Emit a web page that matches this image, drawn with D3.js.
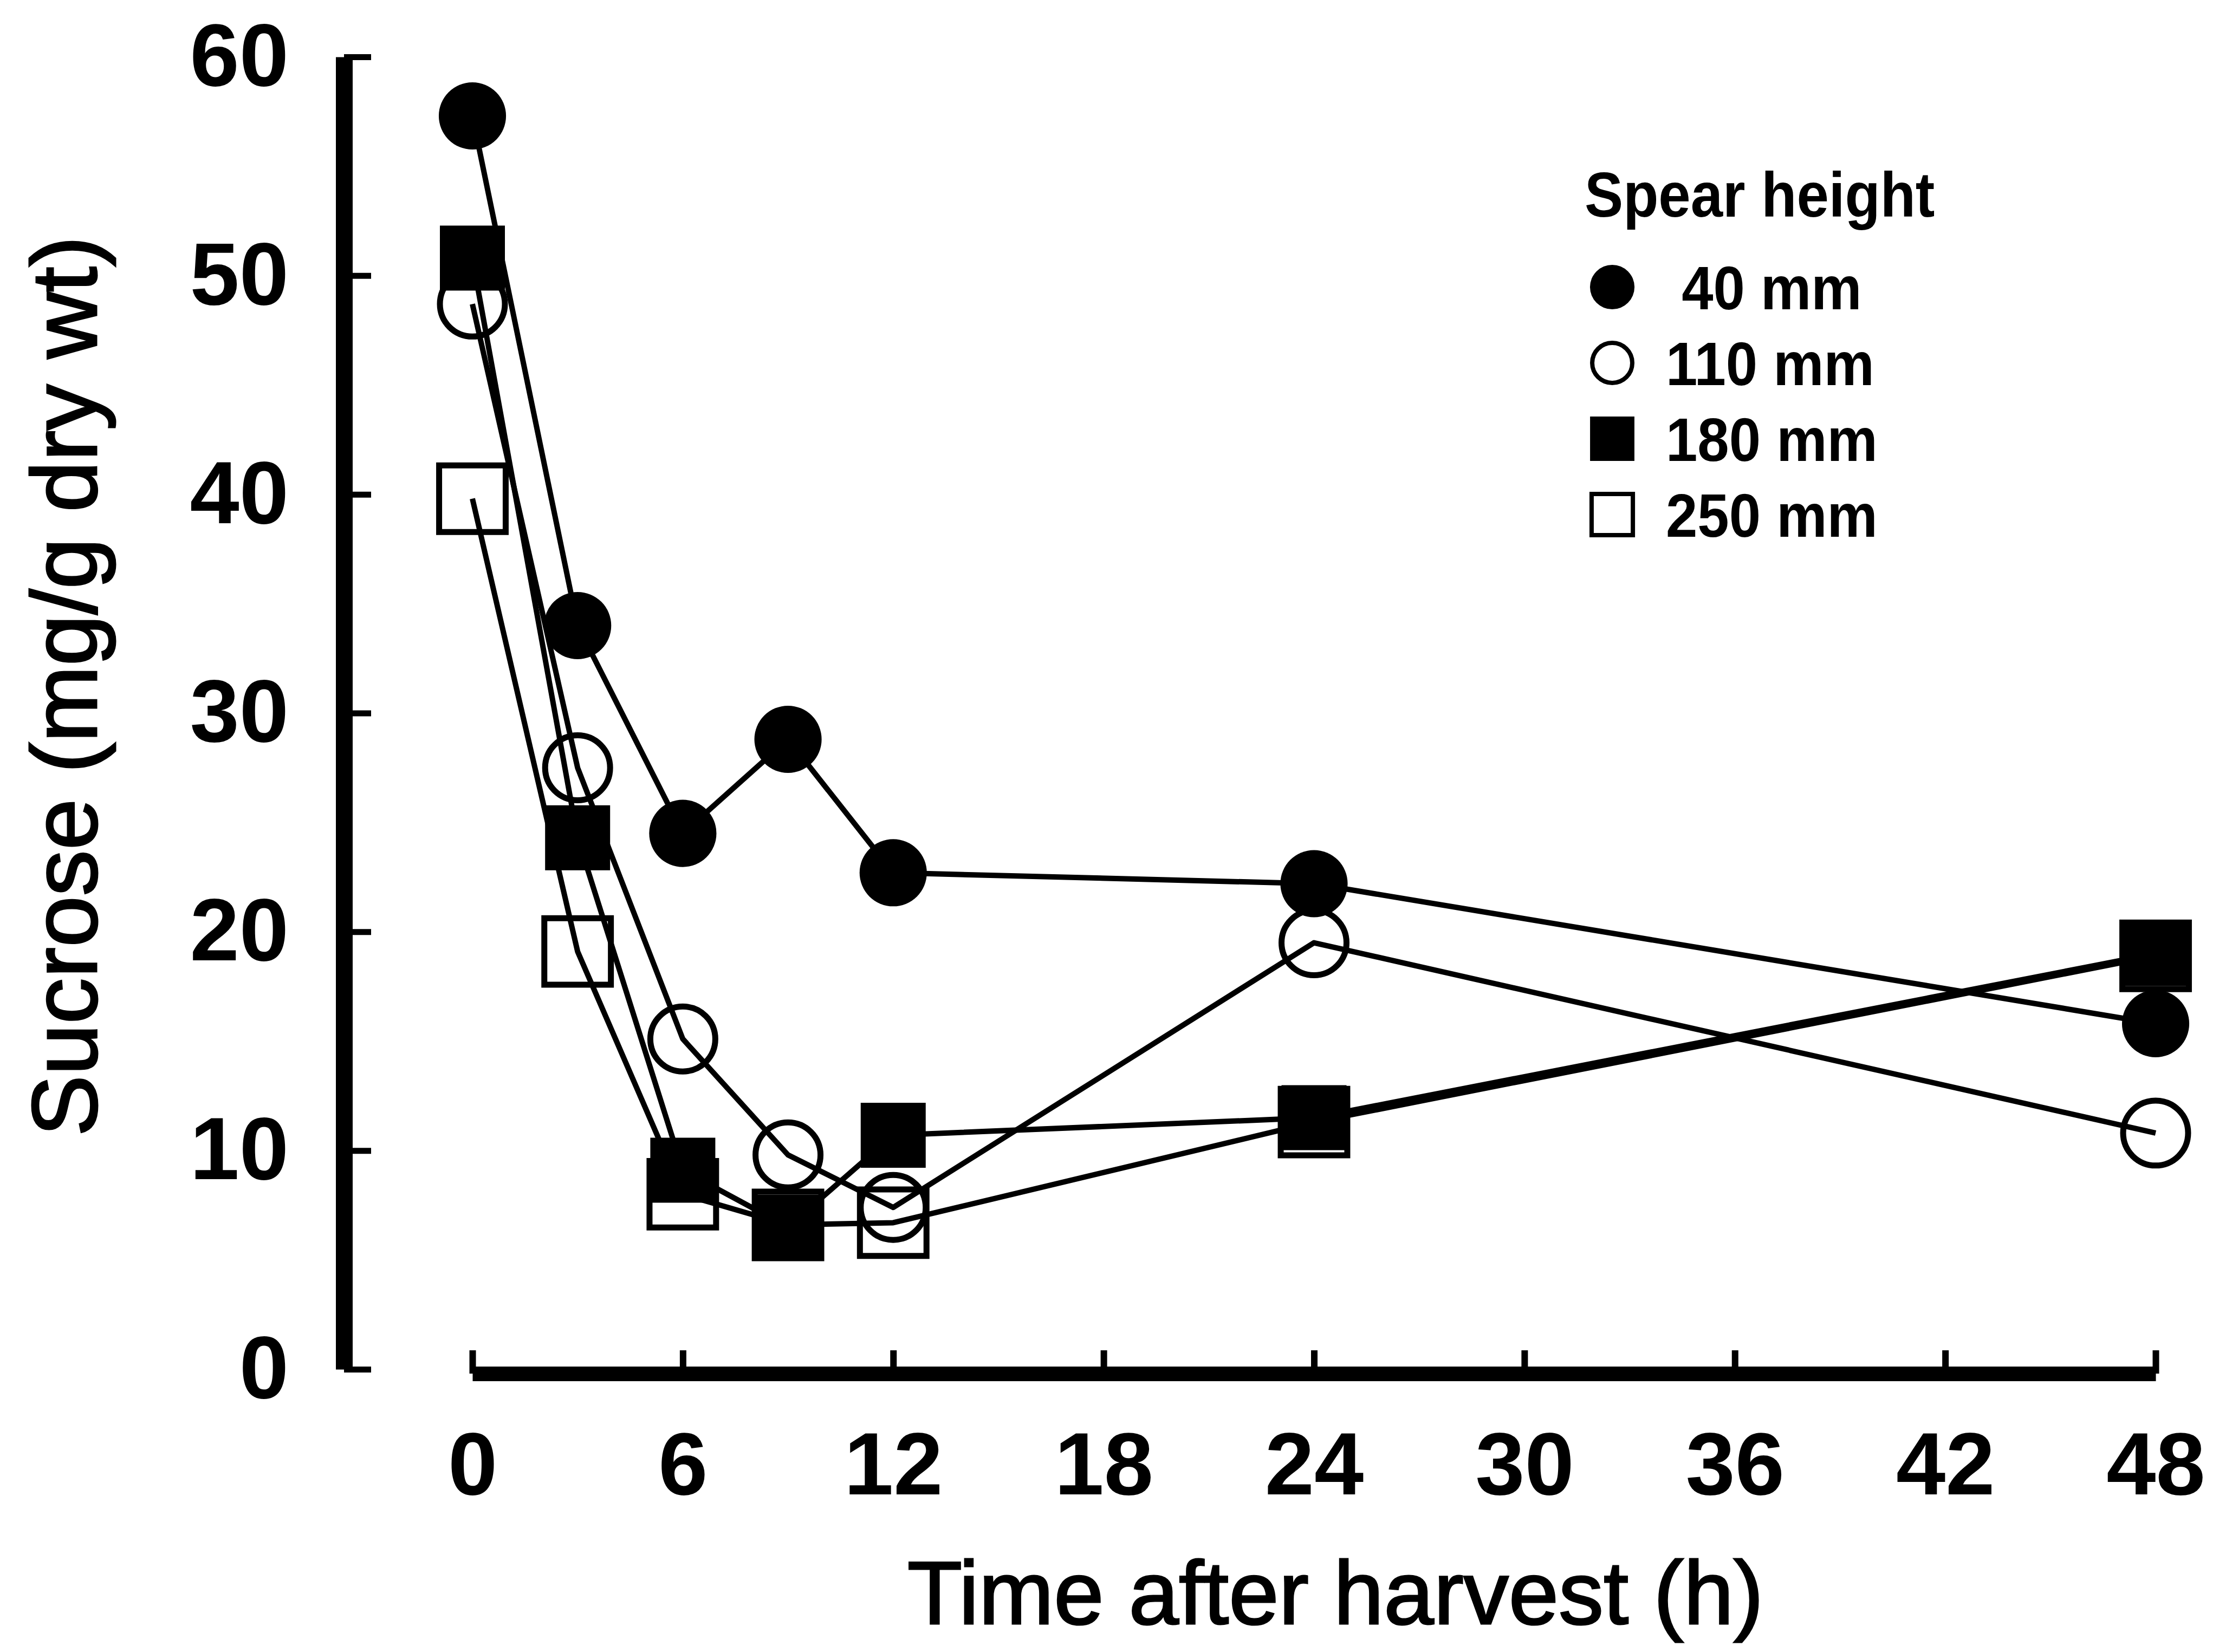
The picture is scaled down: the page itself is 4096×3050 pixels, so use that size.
<!DOCTYPE html>
<html>
<head>
<meta charset="utf-8">
<script src="https://cdn.jsdelivr.net/npm/d3@7"></script>
<style>
  body { margin: 0; background: #fff; }
  svg { display: block; }
  text { font-family: 'Liberation Sans', Arial, Helvetica, sans-serif; fill: #000; }
</style>
</head>
<body>
<svg></svg>
<script>
  // tijd na oogst (h)
  let hours = [0, 3, 6, 9, 12, 24, 48]
  // sucrose (mg/g dry wt) per spear height
  let spear40 = [57.3, 34.0, 24.5, 28.8, 22.7, 22.2, 15.8]
  let spear110 = [48.7, 27.5, 15.1, 9.8, 7.4, 19.5, 10.8]
  let spear180 = [50.8, 24.3, 9.1, 6.5, 10.7, 11.5, 19.0]
  let spear250 = [39.8, 19.1, 8.0, 6.6, 6.7, 11.3, 18.9]
  let seriesLabels = [' 40 mm', '110 mm', '180 mm', '250 mm']
  let xTicks = [0, 6, 12, 18, 24, 30, 36, 42, 48]
  let yTicks = [0, 10, 20, 30, 40, 50, 60]

  let svgWidth = 4096, svgHeight = 3050

  let svg = d3.select('svg')
    .attr('width', svgWidth)
    .attr('height', svgHeight)

  svg.append('rect')
    .attr('width', svgWidth)
    .attr('height', svgHeight)
    .attr('fill', '#fff')

  let x = d3.scaleLinear().domain([0, 48]).range([872, 3979])
  let y = d3.scaleLinear().domain([0, 60]).range([2528, 105])

  // marker style per serie (shape, filled, symbol area in plot / legend)
  let markers = [
    { shape: d3.symbolCircle, filled: true, size: 12100, legendSize: 5300 },
    { shape: d3.symbolCircle, filled: false, size: 11300, legendSize: 4300 },
    { shape: d3.symbolSquare, filled: true, size: 14400, legendSize: 6700 },
    { shape: d3.symbolSquare, filled: false, size: 15100, legendSize: 5800 }
  ]

  let series = [spear40, spear110, spear180, spear250].map(function (values, i) {
    return {
      label: seriesLabels[i],
      marker: markers[i],
      points: hours.map(function (h, j) { return { h: h, v: values[j] } })
    }
  })

  // Y as: dikke lijn, ticks naar binnen
  let yAxis = svg.append('g')
    .attr('transform', 'translate(635,0)')
    .call(d3.axisLeft(y).tickValues(yTicks).tickSizeInner(-50).tickSizeOuter(0).tickPadding(102))
  yAxis.select('.domain').attr('stroke-width', 31)
  yAxis.selectAll('.tick line').attr('stroke-width', 11)
  yAxis.selectAll('.tick text')
    .attr('font-size', 164)
    .attr('font-weight', 'bold')
    .attr('font-family', "'Liberation Sans', Arial, sans-serif")

  // X as
  let xAxis = svg.append('g')
    .attr('transform', 'translate(0,2536)')
    .call(d3.axisBottom(x).tickValues(xTicks).tickSizeInner(-43).tickSizeOuter(0).tickPadding(107))
  xAxis.select('.domain').attr('stroke-width', 27)
  xAxis.selectAll('.tick line').attr('stroke-width', 12)
  xAxis.selectAll('.tick text')
    .attr('font-size', 164)
    .attr('font-weight', 'bold')
    .attr('font-family', "'Liberation Sans', Arial, sans-serif")

  // lijnen
  let line = d3.line()
    .x(function (d) { return x(d.h) })
    .y(function (d) { return y(d.v) })

  svg.append('g')
    .selectAll('path')
    .data(series)
    .enter()
    .append('path')
    .attr('d', function (d) { return line(d.points) })
    .attr('fill', 'none')
    .attr('stroke', '#000')
    .attr('stroke-width', 10)
    .attr('stroke-linejoin', 'round')

  // markers
  let markerGroups = svg.append('g')
    .selectAll('g')
    .data(series)
    .enter()
    .append('g')

  markerGroups.selectAll('path')
    .data(function (d) { return d.points.map(function (p) { return { p: p, m: d.marker } }) })
    .enter()
    .append('path')
    .attr('d', function (d) { return d3.symbol().type(d.m.shape).size(d.m.size)() })
    .attr('transform', function (d) { return `translate(${x(d.p.h)},${y(d.p.v)})` })
    .attr('fill', function (d) { return d.m.filled ? '#000' : 'none' })
    .attr('stroke', '#000')
    .attr('stroke-width', function (d) { return d.m.filled ? 0 : 11 })

  // as titels
  svg.append('text')
    .attr('x', 2465)
    .attr('y', 2998)
    .attr('text-anchor', 'middle')
    .attr('font-size', 166)
    .attr('stroke', '#000')
    .attr('stroke-width', 3)
    .text('Time after harvest (h)')

  svg.append('text')
    .attr('transform', 'translate(178,1267) rotate(-90)')
    .attr('text-anchor', 'middle')
    .attr('font-size', 170)
    .attr('stroke', '#000')
    .attr('stroke-width', 3)
    .text('Sucrose (mg/g dry wt)')

  // legenda
  let legend = svg.append('g')

  legend.append('text')
    .attr('x', 2925)
    .attr('y', 400)
    .attr('font-size', 116)
    .attr('font-weight', 'bold')
    .text('Spear height')

  let rows = legend.selectAll('g.row')
    .data(series)
    .enter()
    .append('g')
    .attr('class', 'row')
    .attr('transform', function (d, i) { return `translate(0,${530 + i * 140})` })

  rows.append('path')
    .attr('d', function (d) { return d3.symbol().type(d.marker.shape).size(d.marker.legendSize)() })
    .attr('transform', 'translate(2976,0)')
    .attr('fill', function (d) { return d.marker.filled ? '#000' : 'none' })
    .attr('stroke', '#000')
    .attr('stroke-width', function (d) { return d.marker.filled ? 0 : 8 })

  rows.append('text')
    .attr('x', 3075)
    .attr('dy', '0.36em')
    .attr('font-size', 114)
    .attr('font-weight', 'bold')
    .style('white-space', 'pre')
    .text(function (d) { return d.label })

  // legenda tekst iets samendrukken, zoals in het origineel
  legend.selectAll('text').each(function () {
    let w = this.getComputedTextLength()
    d3.select(this)
      .attr('textLength', w * 0.92)
      .attr('lengthAdjust', 'spacingAndGlyphs')
  })
</script>
</body>
</html>
